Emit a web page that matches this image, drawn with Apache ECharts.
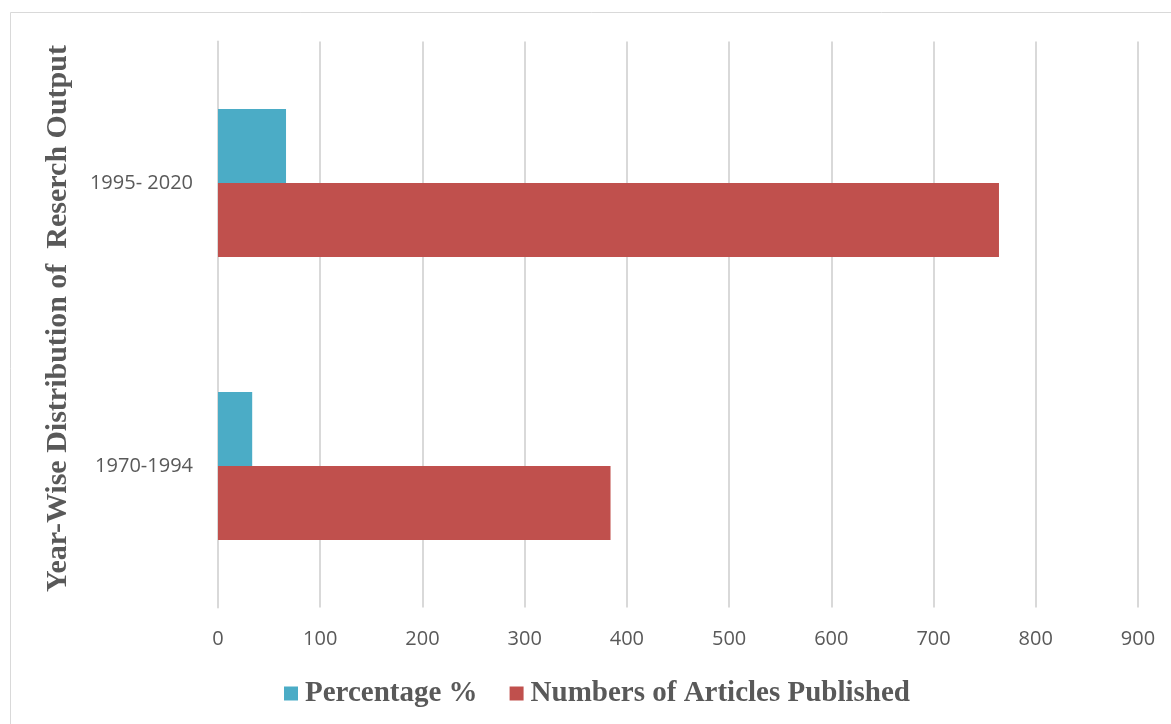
<!DOCTYPE html>
<html>
<head>
<meta charset="utf-8">
<script src="https://cdn.jsdelivr.net/npm/echarts@6/dist/echarts.min.js"></script>
<style>
  html, body { margin: 0; padding: 0; background: #ffffff; }
  #chart { width: 1171px; height: 724px; }
</style>
</head>
<body>
<div id="chart"></div>
<script>
// Research output by period
const periods = ['1970-1994', '1995- 2020'];
const percentage = [33.45, 66.55];
const articles = [384, 764];
const xTicks = { min: 0, max: 900, interval: 100 };

const seriesNames = ['Percentage %', 'Numbers of Articles Published'];
const colors = ['#4bacc6', '#c0504d'];
const textGrey = '#595959';

const chart = echarts.init(document.getElementById('chart'));
chart.setOption({
  backgroundColor: '#ffffff',
  animation: false,
  graphic: [{
    type: 'rect',
    shape: { x: 10.5, y: 12.5, width: 1200, height: 800 },
    style: { fill: 'none', stroke: '#d9d9d9', lineWidth: 1 },
    silent: true,
    z: -10
  }],
  grid: { left: 218, right: 33, top: 41.5, bottom: 116.5, containLabel: false },
  legend: {
    data: seriesNames,
    left: 279,
    top: 674,
    itemWidth: 14,
    itemHeight: 14,
    itemGap: 32,
    icon: 'rect',
    textStyle: {
      fontFamily: 'Liberation Serif',
      fontWeight: 'bold',
      fontSize: 29,
      color: textGrey,
      padding: [0, 0, 0, 2]
    }
  },
  xAxis: {
    type: 'value',
    min: xTicks.min,
    max: xTicks.max,
    interval: xTicks.interval,
    axisLine: { show: false },
    axisTick: { show: false },
    axisLabel: { fontFamily: 'Open Sans', fontSize: 20, color: textGrey, margin: 22 },
    splitLine: { lineStyle: { color: '#d9d9d9', width: 2 } }
  },
  yAxis: {
    type: 'category',
    data: periods,
    name: 'Year-Wise Distribution of  Reserch Output',
    nameLocation: 'middle',
    nameRotate: 90,
    nameGap: 145,
    nameTextStyle: {
      fontFamily: 'Liberation Serif',
      fontWeight: 'bold',
      fontSize: 30,
      color: textGrey,
      padding: [0, 0, 0, 12]
    },
    axisLine: { show: true, lineStyle: { color: '#d9d9d9', width: 2 } },
    axisTick: { show: false },
    axisLabel: {
      fontFamily: 'Open Sans', fontSize: 20, color: textGrey, margin: 25,
      padding: [3, 0, 0, 0]
    }
  },
  series: [
    {
      name: seriesNames[0],
      type: 'bar',
      data: percentage,
      itemStyle: { color: colors[0] },
      barGap: '0%',
      barCategoryGap: '47.7%'
    },
    {
      name: seriesNames[1],
      type: 'bar',
      data: articles,
      itemStyle: { color: colors[1] },
      barGap: '0%',
      barCategoryGap: '47.7%'
    }
  ]
});
</script>
</body>
</html>
